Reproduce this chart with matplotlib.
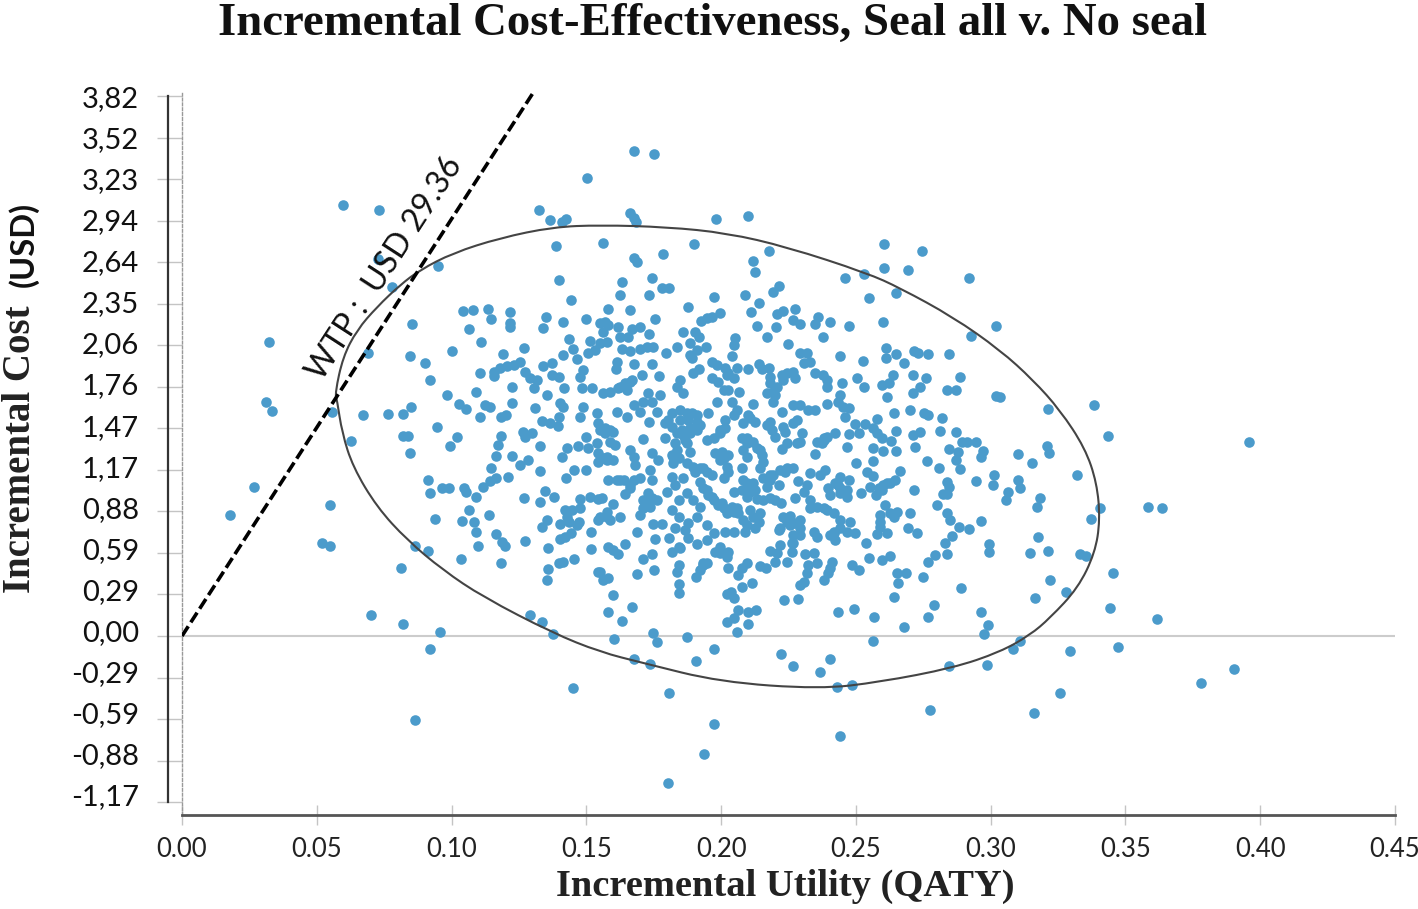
import matplotlib
matplotlib.use('Agg')
import matplotlib.pyplot as plt
from matplotlib.patches import PathPatch
from matplotlib.path import Path
from matplotlib.transforms import ScaledTranslation
import numpy as np

# incremental utility, incremental cost for each simulation
upper_left = [(.0599,3.07),(.0731,3.037),(.0726,2.69),(.0778,2.49),(.0951,2.638),(.0852,2.227),(.0323,2.094),(.0689,2.02),
    (.0846,1.996),(.0902,1.948),(.1003,2.032),(.092,1.825),(.1323,3.037),(.1366,2.965),(.1409,2.954),(.1425,2.97),(.1504,3.262),
    (.1387,2.78),(.1398,2.538),(.1443,2.395),(.1042,2.317),(.1079,2.322),(.1135,2.331),(.1147,2.262),(.1217,2.31),(.1217,2.234),
    (.1217,2.205),(.1065,2.188),(.111,2.094),(.1267,2.055),(.119,2.008),(.1349,2.276),(.1341,2.198),(.1412,2.236),(.1499,2.262),
    (.1435,2.115),(.1512,2.105),(.1449,2.046),(.1415,2.0),(.1467,1.972),(.1508,2.02),(.1533,2.039),(.1159,1.884),(.118,1.908),
    (.1205,1.925),(.123,1.932),(.1254,1.951),(.1273,1.884),(.1292,1.837),(.1316,1.825),(.1341,1.925),(.1372,1.949),(.1372,1.86),
    (.14,1.849),(.1104,1.873),(.1159,1.854),(.1486,1.896),(.1475,1.849),(.1224,1.778),(.1304,1.766),(.1418,1.77),(.1483,1.77),
    (.152,1.766),(.1091,1.742),(.0982,1.718),(.1353,1.718)]

lower_left = [(.0311,1.67),(.0335,1.606),(.0556,1.599),(.0626,1.392),(.0267,1.064),(.0178,.862),(.0549,.931),(.0518,.665),(.0549,.644),
    (.0865,.641),(.0914,.606),(.0813,.484),(.1034,.546),(.07,.149),(.082,.085),(.0958,.026),(.092,-.095),(.1291,.149),(.1335,.097),
    (.1375,.014),(.0673,1.575),(.0763,1.582),(.0819,1.582),(.085,1.634),(.0945,1.487),(.0819,1.428),(.084,1.428),(.0844,1.307),
    (.102,1.416),(.0995,1.354),(.1028,1.653),(.1053,1.618),(.1104,1.563),(.1125,1.646),(.1143,1.634),(.1184,1.563),(.1201,1.575),
    (.1224,1.663),(.131,1.623),(.1335,1.535),(.1366,1.516),(.1394,1.497),(.14,1.563),(.1403,1.658),(.1415,1.634),(.1487,1.634),
    (.1477,1.563),(.1184,1.428),(.1264,1.452),(.1273,1.416),(.1298,1.444),(.1329,1.356),(.1174,1.361),(.1165,1.283),(.1224,1.283),
    (.1254,1.219),(.1283,1.254),(.1147,1.2),(.1211,1.135),(.1329,1.176),(.1165,1.124),(.1143,1.105),(.1116,1.064),(.0914,1.112),
    (.092,1.017),(.0964,1.052),(.0989,1.052),(.1047,1.052),(.1053,1.024),(.109,.993),(.1267,.981),(.1329,.957),(.1348,1.033),
    (.1381,.993),(.1424,1.124),(.1455,1.183),(.1499,1.183),(.1409,1.278),(.1428,1.337),(.1468,1.354),(.1508,1.337),(.1499,1.416),
    (.1539,1.586),(.1545,1.516),(.1539,1.373),(.1545,1.302),(.1545,1.242),(.1512,.993),(.1475,.974),(.1475,.91),(.1545,.98),
    (.1066,.898),(.0939,.836),(.104,.822),(.1084,.81),(.109,.739),(.1139,.862),(.1097,.641),(.1165,.727),(.1187,.672),(.1199,.644),
    (.1273,.677),(.1184,.522),(.1353,.827),(.1335,.774),(.1359,.629),(.1422,.898),(.1446,.898),(.1428,.85),(.1403,.798),(.1434,.815),
    (.1471,.815),(.1465,.791),(.1403,.689),(.1422,.708),(.1443,.736),(.1518,.739),(.1518,.62),(.14,.522),(.1415,.53),(.1455,.546),
    (.1359,.475),(.1353,.399),(.1545,.827),(.1545,.458),(.0864,-.599),(.145,-.371)]

center_low = [(.1604,-.019),(.1749,.019),(.1764,-.041),(.1875,-.01),(.1975,-.093),(.2058,.026),(.1675,-.167),(.1737,-.202),(.1907,-.178),
    (.2223,-.131),(.2265,-.212),(.2404,-.164),(.2562,-.033),(.268,.062),(.2769,.133),(.2788,.221),(.2964,.171),(.299,.076),(.2977,.012),
    (.2846,-.212),(.2988,-.207),(.158,.171),(.1631,.109),(.1669,.204),(.1598,.292),(.2021,.102),(.2046,.126),(.2062,.185),(.2101,.085),
    (.2101,.173),(.2129,.185),(.2435,.171),(.2494,.192),(.2568,.133),(.2235,.256),(.2285,.266),(.2643,.28),(.289,.339),(.2658,.375),
    (.2652,.446),(.2685,.446),(.2748,.423),(.1844,.368),(.1844,.304),(.2021,.297),(.2037,.316),(.2046,.268),(.2079,.351),(.2116,.38),
    (.1907,.423),(.2027,.482),(.2064,.435),(.2077,.482),(.2095,.518),(.2145,.501),(.2166,.482),(.1687,.439),(.1751,.47),(.1712,.546),
    (.1743,.582),(.1582,.411),(.1563,.399),(.1551,.458),(.1844,.506),(.1838,.458),(.1922,.47),(.1934,.523),(.1947,.518),(.1817,.601),
    (.1842,.637),(.1829,.767),(.1805,.696),(.1848,.625),(.1755,.689),(.1687,.739),(.1749,.798),(.178,.798),(.1644,.656),(.1582,.637),
    (.16,.613),(.1619,.582),(.1625,.846),(.1576,.85),(.1588,.827),(.1551,.85),(.1576,.886),(.16,.941),(.1557,.981),(.1699,.862),
    (.1712,.91),(.1718,.957),(.1743,.981),(.1761,.969),(.173,1.017),(.1712,.969),(.1644,1.012),(.1662,1.052),(.1638,1.112),(.1613,1.112),
    (.1675,1.112),(.17,1.124),(.1582,1.112),(.1743,1.112),(.1798,1.029),(.1817,1.135),(.186,1.124),(.1829,1.076),(.1842,.969),(.1873,1.017),
    (.1897,.969),(.1922,.917),(.1817,.898),(.1842,.85),(.1879,.803),(.191,.85),(.1947,.791),(.1972,.732),(.1947,.684),(.191,.656),
    (.1879,.696),(.1866,.755),(.2015,.739),(.2046,.744),(.1978,.601),(.1996,.589),(.2027,.601),(.1996,.637),(.2021,.565),(.1922,1.1),
    (.1934,1.052),(.1953,1.005),(.1972,.969),(.199,.934),(.2009,.91),(.2027,.898),(.2046,.886),(.2064,.874),(.2083,.827),(.2095,.791),
    (.2126,.767),(.2089,.744),(.2108,.898),(.2145,.874),(.212,.85),(.2139,.815),(.2046,1.029),(.2083,1.112),(.2077,1.04),(.2101,1.052),
    (.212,1.088),(.2095,.993),(.2126,1.04),(.2132,.974),(.2157,.969),(.2182,.981),(.22,.969),(.2223,.95),(.2157,1.124),(.2182,1.112),
    (.217,1.064),(.2213,1.076),(.2194,1.147),(.2219,1.183),(.2244,1.195),(.2268,1.195),(.2287,1.105),(.233,1.159),(.2367,1.147),(.2386,1.183),
    (.2318,1.076),(.2306,1.029),(.2275,.981),(.233,.969),(.233,.91),(.2355,.922),(.238,.91),(.2231,.85),(.2256,.855),(.2293,.827),
    (.2219,.767),(.2256,.791),(.2293,.767),(.2268,.72),(.2293,.72),(.2213,.755),(.2343,.744),(.2355,.708),(.2268,.66),(.2262,.601),
    (.2219,.648),(.2207,.589),(.2182,.608),(.22,.53),(.2244,.53),(.2312,.584),(.2343,.589),(.2355,.518),(.2324,.506),(.2318,.446),
    (.2306,.387),(.2293,.363),(.2411,.53),(.2405,.482),(.2398,.446),(.238,.399),(.2485,.506),(.2513,.47),(.2547,.558),(.2596,.541),
    (.2625,.572),(.2537,.665),(.2417,.744),(.2423,.684),(.2405,.72),(.2442,.767),(.2466,.744),(.2497,.732),(.2479,.815),(.2442,.827),
    (.2417,.874),(.2392,.898),(.2405,1.005),(.2442,1.017),(.2466,.993),(.2398,1.052),(.2423,1.088),(.2442,1.135),(.2473,1.112),(.2466,1.04),
    (.2435,1.076),(.2518,1.017),(.2575,1.005),(.2553,1.064),(.2584,1.052),(.2602,1.076),(.2627,1.088),(.2646,1.112),(.2664,1.176),(.2541,1.171),
    (.2565,1.14),(.25,1.235),(.2562,1.247),(.2466,1.349),(.2565,1.342),(.2602,1.321),(.2648,1.321),(.2631,1.392),(.2349,1.297),(.2374,1.373),
    (.2392,1.421),(.2423,1.444),(.2355,1.385),(.238,1.409),(.2473,1.437),(.251,1.444),(.2497,1.511),(.2532,1.511),(.258,1.544),(.2565,1.48),
    (.2578,1.444),(.2596,1.413),(.2648,1.463),(.2713,1.433),(.2738,1.456),(.272,1.349),(.2643,1.587),(.2701,1.611),(.2751,1.587),(.2767,1.575),
    (.2818,1.551),(.2813,1.463),(.2871,1.452),(.2893,1.385),(.2912,1.385),(.2946,1.385),(.2847,1.33),(.2878,1.314),(.2872,1.254),(.2973,1.321),
    (.2965,1.273),(.2763,1.247),(.2807,1.2),(.2887,1.188),(.2946,1.105),(.3014,1.147),(.3008,1.076),(.2714,1.04),(.2837,1.1),(.2844,1.064),
    (.2825,1.012),(.2837,1.012),(.28,.934),(.2837,.874),(.285,.827),(.2881,.774),(.2918,.762),(.2965,.822),(.2856,.715),(.2831,.665),
    (.2837,.582),(.2794,.577),(.2769,.53),(.2995,.656),(.2995,.601),(.2701,.874),(.2695,.767),(.2726,.736),(.2609,.934),(.2627,.874),
    (.2652,.886),(.2588,.862),(.264,.85),(.259,.779),(.2578,.724),(.2615,.732),(.2588,.815)]

center_mid = [(.1551,1.468),(.157,1.48),(.16,1.456),(.1613,1.6),(.165,1.563),(.1588,1.385),(.1607,1.361),(.1563,1.266),(.16,1.254),(.1576,1.254),
    (.1662,1.326),(.1675,1.278),(.1681,1.219),(.1712,1.401),(.1733,1.527),(.1743,1.302),(.1737,1.183),(.1767,1.254),(.1764,1.599),(.1675,1.646),
    (.1699,1.599),(.1712,1.67),(.1743,1.67),(.1817,1.587),(.1848,1.611),(.1873,1.587),(.191,1.575),(.1953,1.587),(.1792,1.516),(.1817,1.492),
    (.1848,1.539),(.1879,1.539),(.191,1.527),(.1922,1.504),(.1835,1.444),(.186,1.433),(.1885,1.444),(.191,1.468),(.1792,1.409),(.1829,1.373),
    (.1873,1.373),(.1885,1.314),(.1835,1.326),(.1817,1.29),(.1842,1.266),(.1823,1.231),(.1873,1.231),(.1947,1.397),(.1972,1.409),(.1996,1.444),
    (.2015,1.48),(.2015,1.539),(.2046,1.575),(.2058,1.611),(.2083,1.516),(.2108,1.551),(.2126,1.527),(.2101,1.575),(.1978,1.302),(.2003,1.314),
    (.2027,1.29),(.1996,1.254),(.2021,1.207),(.2027,1.171),(.2009,1.124),(.1965,1.147),(.1922,1.195),(.1897,1.207),(.1947,1.171),(.2077,1.409),
    (.2095,1.373),(.212,1.385),(.2083,1.326),(.2095,1.278),(.2132,1.337),(.2151,1.29),(.2157,1.242),(.2145,1.195),(.2077,1.2),(.217,1.504),
    (.2188,1.468),(.22,1.421),(.2182,1.527),(.2231,1.492),(.2268,1.516),(.2281,1.539),(.23,1.444),(.2238,1.456),(.2225,1.33),(.2244,1.373),
    (.2281,1.373),(.2293,1.385),(.2225,1.594),(.2268,1.646),(.2293,1.646),(.2324,1.611),(.2349,1.611),(.2392,1.653),(.2454,1.634),(.2473,1.623),
    (.246,1.563),(.212,1.653),(.204,1.67),(.1984,1.67),(.2194,1.67),(.2435,1.67)]

# overlapping dots inside the blobs of the densest part
center_dense = [(.2002,.945),(.204,.922),(.2058,.91),(.2021,.874),(.1947,1.04),(.1965,.993),(.1904,1.171),(.1934,1.195),(.2095,1.088),(.2108,1.029),
    (.2182,1.147),(.2238,1.171),(.1662,1.076),(.1625,1.112),(.1724,.957),(.1737,.922),(.1823,1.278),(.1854,1.468),(.1885,1.48),(.1866,1.397),
    (.1891,1.587),(.1804,1.539),(.1996,1.468),(.2095,1.409),(.2145,1.326),(.2009,1.266),(.2244,.815),(.2275,.803),(.157,1.444),(.1588,1.468),
    (.1576,1.278),(.238,1.397),(.2615,1.088),(.2596,1.04),(.2442,1.052),(.2417,.732),(.1934,.506),(.2262,.66),(.1644,1.789),(.1662,1.813),
    (.1619,1.766),(.2182,1.801),(.2194,1.742),(.2021,1.861)]

upper_mid = [(.1675,3.457),(.1751,3.434),(.1662,3.013),(.1675,2.977),(.1685,2.954),(.1981,2.973),(.2101,2.996),(.1563,2.804),(.1901,2.792),(.2178,2.744),
    (.2605,2.792),(.2745,2.744),(.2605,2.626),(.2695,2.609),(.246,2.55),(.2531,2.578),(.292,2.554),(.265,2.443),(.255,2.407),(.26,2.236),
    (.2473,2.212),(.302,2.212),(.2927,2.139),(.1675,2.692),(.1687,2.668),(.1786,2.721),(.212,2.673),(.2126,2.597),(.1631,2.526),(.1743,2.55),
    (.178,2.478),(.1805,2.478),(.1625,2.431),(.1733,2.431),(.1582,2.331),(.1662,2.324),(.1972,2.419),(.2089,2.431),(.2215,2.495),(.2194,2.45),
    (.2141,2.371),(.1879,2.348),(.1755,2.26),(.211,2.307),(.2275,2.331),(.2231,2.317),(.2207,2.295),(.1996,2.3),(.1965,2.276),(.1947,2.265),
    (.1926,2.248),(.2266,2.253),(.2293,2.222),(.2361,2.276),(.2349,2.224),(.2405,2.236),(.2132,2.212),(.2203,2.2),(.2172,2.129),(.2377,2.129),
    (.2247,2.079),(.157,2.241),(.1551,2.229),(.1582,2.217),(.1619,2.205),(.1669,2.189),(.17,2.205),(.1733,2.153),(.1625,2.134),(.1656,2.129),
    (.1563,2.17),(.1576,2.094),(.1551,2.086),(.1858,2.17),(.1904,2.17),(.1918,2.129),(.1631,2.046),(.1662,2.034),(.1699,2.046),(.1724,2.063),
    (.1749,2.058),(.1795,2.02),(.1838,2.058),(.1883,2.086),(.1885,2.003),(.191,2.039),(.1944,2.058),(.1891,1.979),(.2052,2.122),(.2046,2.074),
    (.204,1.996),(.2611,2.051),(.2612,1.979),(.2649,2.008),(.2714,2.034),(.2729,2.015),(.2769,2.008),(.2844,2.008),(.2293,2.02),(.232,2.02),
    (.233,1.956),(.2308,1.944),(.2442,1.996),(.2528,1.96),(.268,1.948),(.1613,1.956),(.161,1.901),(.1675,1.937),(.1743,1.937),(.1706,1.861),
    (.177,1.854),(.1669,1.825),(.1644,1.801),(.1625,1.777),(.165,1.754),(.1588,1.742),(.1563,1.73),(.1728,1.73),(.1774,1.718),(.1848,1.825),
    (.1835,1.773),(.186,1.73),(.1897,1.873),(.1918,1.901),(.1965,1.951),(.1984,1.932),(.2015,1.908),(.2058,1.913),(.2098,1.901),(.1965,1.837),
    (.199,1.813),(.2027,1.873),(.2046,1.837),(.2009,1.754),(.2027,1.754),(.2067,1.742),(.2142,1.937),(.2151,1.901),(.2179,1.908),(.2182,1.849),
    (.2225,1.861),(.2244,1.873),(.2268,1.884),(.2275,1.837),(.2231,1.825),(.2207,1.777),(.217,1.73),(.22,1.718),(.2349,1.877),(.2377,1.861),
    (.2392,1.825),(.2392,1.777),(.2448,1.801),(.2442,1.718),(.2503,1.837),(.253,1.777),(.2637,1.861),(.2621,1.801),(.2596,1.789),(.2711,1.861),
    (.2761,1.837),(.2738,1.777),(.2711,1.73),(.2887,1.849),(.2837,1.754),(.287,1.754),(.2617,1.706),(.3019,1.713)]

right_side = [(.3214,1.618),(.3385,1.647),(.3435,1.428),(.3957,1.381),(.3208,1.357),(.3217,1.307),(.3103,1.295),(.3153,1.236),(.3322,1.148),(.3103,1.112),
    (.3109,1.053),(.3063,1.029),(.3057,.97),(.3183,.982),(.3171,.922),(.3404,.91),(.3371,.834),(.3585,.922),(.3637,.91),(.3177,.704),(.3146,.594),
    (.3214,.606),(.3332,.582),(.3353,.573),(.3453,.452),(.3221,.399),(.3279,.316),(.3165,.269),(.3441,.197),(.3616,.121),(.3109,-.035),(.3082,-.092),
    (.3296,-.107),(.3472,-.08),(.3901,-.237),(.378,-.337),(.3258,-.408),(.3159,-.551),(.3035,1.706)]

bottom_side = [(.1807,-.406),(.1974,-.627),(.1936,-.841),(.1803,-1.048),(.2441,-.713),(.243,-.364),(.2486,-.349),(.2775,-.527),(.2367,-.257)]

# hand drawn ellipse round the cloud
ellipse_x = [.0568,.0597,.0649,.0723,.0809,.0883,.1005,.118,.1376,.1551,.1799,.2022,.2244,.2541,.2664,.286,.3035,.3157,.3257,.335,.3394,
    .3406,.3387,.3324,.322,.3146,.3035,.286,.2589,.2367,.1996,.171,.1551,.1376,.1117,.0968,.0835,.0723,.0634,.0594,.0575]
ellipse_y = [1.732,1.989,2.181,2.345,2.502,2.609,2.73,2.837,2.915,2.929,2.915,2.872,2.773,2.587,2.48,2.274,2.038,1.825,1.611,1.34,1.091,
    .827,.592,.342,.128,.007,-.114,-.228,-.328,-.378,-.328,-.192,-.114,.021,.278,.47,.684,.919,1.205,1.447,1.682]

wtp_x = [0.0, .1302]
wtp_y = [0.0, 3.87]

y_labels = ['3,82','3,52','3,23','2,94','2,64','2,35','2,06','1,76','1,47','1,17','0,88','0,59','0,29','0,00','-0,29','-0,59','-0,88','-1,17']
y_ticks = [.296 * (13 - i) for i in range(len(y_labels))]
x_ticks = [0, .05, .10, .15, .20, .25, .30, .35, .40, .45]

pts = np.array(upper_left + lower_left + center_low + center_mid + center_dense + upper_mid + right_side + bottom_side)

W, H = 1418, 909
fig = plt.figure(figsize=(W / 100, H / 100), dpi=100)
ax = fig.add_axes([182 / W, 1 - 815 / H, (1395 - 182) / W, (815 - 93) / H])
ax.set_xlim(0, .45)
ax.set_ylim(-(815 - 636) / 140.3, (636 - 93) / 140.3)

ax.scatter(pts[:, 0], pts[:, 1], s=58, color='#4b9bcb', linewidths=0, zorder=3)

# smooth closed outline, the listed points are control points of the curve
verts = list(zip(ellipse_x, ellipse_y))
n = len(verts)
mids = [((verts[i][0] + verts[(i + 1) % n][0]) / 2, (verts[i][1] + verts[(i + 1) % n][1]) / 2) for i in range(n)]
path_v = [mids[-1]]
path_c = [Path.MOVETO]
for i in range(n):
    path_v += [verts[i], mids[i]]
    path_c += [Path.CURVE3, Path.CURVE3]
ax.add_patch(PathPatch(Path(path_v, path_c), fill=False, edgecolor='#444444', lw=1.5, zorder=4))

ax.plot(wtp_x, wtp_y, color='black', lw=2.6, dashes=(3.2, 1.3), zorder=5)
ax.axhline(0, color='#cccccc', lw=1.5, zorder=1)

for s in ['top', 'right']:
    ax.spines[s].set_visible(False)
ax.spines['left'].set(color='#999999', lw=1, linestyle=(0, (2, 1.5)))
ax.spines['bottom'].set(color='#555555', lw=2)

# black line left of the dotted zero axis
ax.plot([-.0052, -.0052], [y_ticks[-1], y_ticks[0]], color='#333333', lw=1.6, clip_on=False, zorder=5)

ax.set_yticks(y_ticks)
ax.set_yticklabels(y_labels, fontfamily='Lato', fontsize=21, color='#111111')
ax.tick_params(axis='y', length=18, width=1, color='#c4c4c4', pad=13)
# the labels are spaced a little tighter than the ticks
for i, lbl in enumerate(ax.get_yticklabels()):
    off = (i * 0.47 - 0.5) * 0.72 / 72
    lbl.set_transform(lbl.get_transform() + ScaledTranslation(0, off, fig.dpi_scale_trans))

ax.set_xticks(x_ticks)
ax.set_xticklabels(['%.2f' % v for v in x_ticks], fontfamily='Lato', fontsize=18.5, color='#222222')
ax.tick_params(axis='x', direction='inout', length=14, width=1, color='#c4c4c4', pad=9)

fig.text(712 / W, 1 - 24 / H, 'Incremental Cost-Effectiveness, Seal all v. No seal', family='Liberation Serif',
         weight='bold', fontsize=33.7, ha='center', va='center', color='#111111')
fig.text(785 / W, 1 - 886 / H, 'Incremental Utility (QATY)', family='Liberation Serif', weight='bold',
         fontsize=27.7, ha='center', va='center', color='#222222')
fig.text(21 / W, 1 - 449 / H, 'Incremental Cost', family='Liberation Serif', weight='bold', fontsize=28,
         rotation=90, ha='center', va='center', color='#222222')
fig.text(23 / W, 1 - 244 / H, '(USD)', family='Lato', weight='bold', fontsize=23.5,
         rotation=90, ha='center', va='center', color='#111111')

ax.text(.0753, 2.623, 'WTP :  USD 29.36', family='Lato', fontsize=23, rotation=57, rotation_mode='anchor',
        ha='center', va='center', color='#111111', zorder=6)

plt.savefig('out.png', dpi=100)
